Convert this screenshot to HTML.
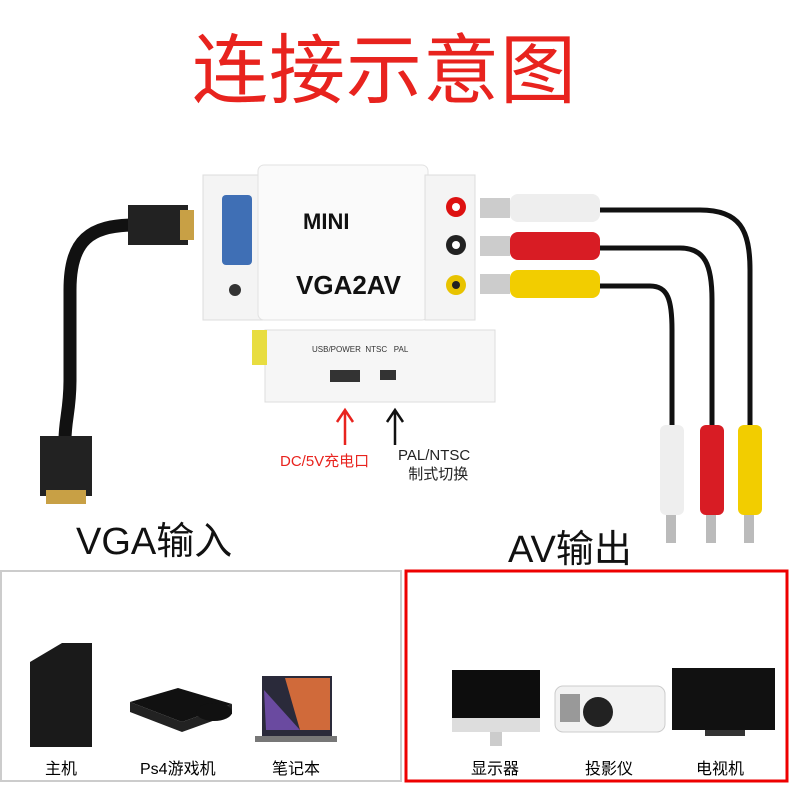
<!DOCTYPE html>
<html><head><meta charset="utf-8"><style>
body{margin:0;width:790px;height:790px;background:#fff;overflow:hidden;position:relative;font-family:"Liberation Sans","Noto Sans CJK SC",sans-serif}
.a{position:absolute}
.t{position:absolute;white-space:nowrap}
</style></head><body>
<div class="t" style="left:192px;top:24px;font-size:76px;color:#e8231e;letter-spacing:1px;line-height:96px">连接示意图</div>

<svg class="a" style="left:0;top:0" width="790" height="790">
 <path d="M135 225 C90 225 70 240 70 290 L70 380 C70 410 65 420 65 440" stroke="#111" stroke-width="13" fill="none"/>
 <rect x="128" y="205" width="60" height="40" fill="#222"/>
 <rect x="180" y="210" width="14" height="30" fill="#c8a045"/>
 <rect x="40" y="436" width="52" height="60" fill="#222"/>
 <rect x="46" y="490" width="40" height="14" fill="#c8a045"/>
 <rect x="203" y="175" width="60" height="145" fill="#f4f4f4" stroke="#ddd"/>
 <rect x="258" y="165" width="170" height="155" rx="6" fill="#fafafa" stroke="#e2e2e2"/>
 <rect x="425" y="175" width="50" height="145" fill="#f4f4f4" stroke="#ddd"/>
 <rect x="222" y="195" width="30" height="70" rx="4" fill="#3f6fb5"/>
 <circle cx="235" cy="290" r="6" fill="#333"/>
 <circle cx="456" cy="207" r="10" fill="#d11"/><circle cx="456" cy="207" r="4" fill="#fff"/>
 <circle cx="456" cy="245" r="10" fill="#222"/><circle cx="456" cy="245" r="4" fill="#fff"/>
 <circle cx="456" cy="285" r="10" fill="#e8c300"/><circle cx="456" cy="285" r="4" fill="#222"/>
 <rect x="265" y="330" width="230" height="72" fill="#f6f6f6" stroke="#ddd"/>
 <rect x="252" y="330" width="15" height="35" fill="#e8dd40"/>
 <rect x="330" y="370" width="30" height="12" fill="#333"/>
 <rect x="380" y="370" width="16" height="10" fill="#333"/>
 <path d="M600 210 L700 210 C740 210 750 230 750 270 L750 430" stroke="#111" stroke-width="5" fill="none"/>
 <path d="M600 248 L680 248 C705 248 712 265 712 300 L712 430" stroke="#111" stroke-width="5" fill="none"/>
 <path d="M600 286 L650 286 C668 286 672 300 672 330 L672 430" stroke="#111" stroke-width="5" fill="none"/>
 <rect x="480" y="198" width="30" height="20" fill="#ccc"/><rect x="510" y="194" width="90" height="28" rx="8" fill="#eee"/>
 <rect x="480" y="236" width="30" height="20" fill="#ccc"/><rect x="510" y="232" width="90" height="28" rx="8" fill="#d81c24"/>
 <rect x="480" y="274" width="30" height="20" fill="#ccc"/><rect x="510" y="270" width="90" height="28" rx="8" fill="#f2cd00"/>
 <rect x="660" y="425" width="24" height="90" rx="6" fill="#eee"/><rect x="666" y="515" width="10" height="28" fill="#bbb"/>
 <rect x="700" y="425" width="24" height="90" rx="6" fill="#d81c24"/><rect x="706" y="515" width="10" height="28" fill="#bbb"/>
 <rect x="738" y="425" width="24" height="90" rx="6" fill="#f2cd00"/><rect x="744" y="515" width="10" height="28" fill="#bbb"/>
 <path d="M345 445 L345 412 M337 422 L345 410 L353 422" stroke="#e8231e" stroke-width="2.5" fill="none"/>
 <path d="M395 445 L395 412 M387 422 L395 410 L403 422" stroke="#111" stroke-width="2.5" fill="none"/>
 <rect x="1" y="571" width="400" height="210" fill="none" stroke="#ccc" stroke-width="2"/>
 <rect x="406" y="571" width="381" height="210" fill="none" stroke="#e00" stroke-width="3"/>
 <!-- tower -->
 <path d="M30 662 L62 643 L92 643 L92 747 L30 747 Z" fill="#1a1a1a"/>
 <!-- PS4 -->
 <path d="M130 702 L178 688 L232 704 L182 722 Z" fill="#111"/>
 <path d="M130 702 L130 712 L182 732 L232 714 L232 704 L182 722 Z" fill="#222"/>
 <ellipse cx="214" cy="712" rx="18" ry="9" fill="#111"/>
 <!-- laptop -->
 <rect x="262" y="676" width="70" height="60" fill="#2a2a3a"/>
 <path d="M285 678 L330 678 L330 730 L300 730 Z" fill="#d06a3a"/>
 <path d="M264 690 L300 730 L266 730 Z" fill="#6a4aa0"/>
 <rect x="255" y="736" width="82" height="6" fill="#777"/>
 <!-- monitor -->
 <rect x="452" y="670" width="88" height="62" fill="#0d0d0d"/>
 <rect x="452" y="718" width="88" height="14" fill="#ddd"/>
 <rect x="490" y="732" width="12" height="14" fill="#ccc"/>
 <!-- projector -->
 <rect x="555" y="686" width="110" height="46" rx="8" fill="#f2f2f2" stroke="#ccc"/>
 <circle cx="598" cy="712" r="15" fill="#222"/>
 <rect x="560" y="694" width="20" height="28" fill="#999"/>
 <!-- TV -->
 <rect x="672" y="668" width="103" height="62" fill="#111"/>
 <rect x="705" y="730" width="40" height="6" fill="#333"/>
</svg>
<div class="t" style="left:303px;top:209px;font-size:22px;font-weight:bold;color:#111">MINI</div>
<div class="t" style="left:296px;top:270px;font-size:26px;font-weight:bold;color:#111">VGA2AV</div>
<div class="t" style="left:312px;top:345px;font-size:8px;color:#333">USB/POWER &nbsp;NTSC &nbsp; PAL</div>
<div class="t" style="left:280px;top:450px;font-size:15px;color:#e8231e">DC/5V充电口</div>
<div class="t" style="left:398px;top:446px;font-size:15px;color:#222;line-height:19px;text-align:center">PAL/NTSC<br>&nbsp;&nbsp;制式切换</div>
<div class="t" style="left:76px;top:510px;font-size:38px;color:#111">VGA输入</div>
<div class="t" style="left:508px;top:518px;font-size:38px;color:#111">AV输出</div>
<div class="t" style="left:45px;top:755px;font-size:16px">主机</div>
<div class="t" style="left:140px;top:755px;font-size:16px">Ps4游戏机</div>
<div class="t" style="left:272px;top:755px;font-size:16px">笔记本</div>
<div class="t" style="left:471px;top:755px;font-size:16px">显示器</div>
<div class="t" style="left:585px;top:755px;font-size:16px">投影仪</div>
<div class="t" style="left:696px;top:755px;font-size:16px">电视机</div>
</body></html>
